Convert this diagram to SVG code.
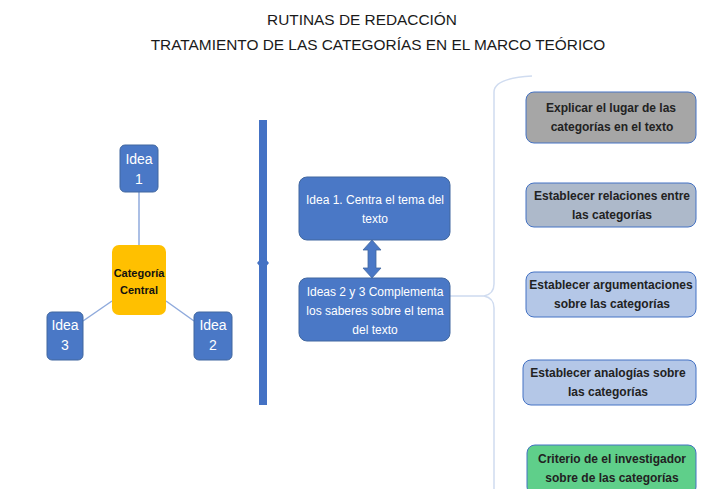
<svg xmlns="http://www.w3.org/2000/svg" width="705" height="489" viewBox="0 0 705 489" xml:space="preserve">
<style>
text{font-family:"Liberation Sans","DejaVu Sans",sans-serif}
.title{font-size:15.4px;fill:#1a1a1a;text-anchor:middle}
.blue{fill:#4a78c6;stroke:#41679f;stroke-width:1}
.wt{fill:#fff;font-size:14px;text-anchor:middle}
.wt2{fill:#fff;font-size:12px;text-anchor:middle}
.bt{fill:#222;font-size:12px;font-weight:bold;text-anchor:middle}
.thin{stroke:#8faadc;stroke-width:1.5;fill:none}
.rb{stroke:#4472c4;stroke-width:1}
</style>
<rect width="705" height="489" fill="#fff"/>
<g id="title">
<text class="title" x="362" y="25">RUTINAS DE REDACCIÓN</text>
<text class="title" x="378" y="50">TRATAMIENTO DE LAS CATEGORÍAS EN EL MARCO TEÓRICO</text>
</g>
<g id="connectors">
<line class="thin" x1="139" y1="192" x2="139" y2="245"/>
<line class="thin" x1="112" y1="301" x2="83" y2="321"/>
<line class="thin" x1="166" y1="301" x2="194" y2="321"/>
<rect x="259" y="120" width="8" height="285" fill="#4472c4"/>
<polygon points="263,256 269,263 263,270 257,263" fill="#4472c4"/>
<polygon points="372,240 381,250 376,250 376,268 381,268 372,278 363,268 368,268 368,250 363,250" fill="#4a78c6" stroke="#41679f" stroke-width="0.8"/>
<line x1="450" y1="296" x2="484" y2="296" stroke="#b4c7e7" stroke-width="1"/>
<path d="M532,76 Q494,78 494,92 L494,284 Q494,294 484,296 Q494,298 494,308 L494,489" fill="none" stroke="#d0dcf0" stroke-width="1.5"/>
</g>
<g id="idea1">
<rect class="blue" x="120" y="145" width="38" height="47" rx="5"/>
<text class="wt" x="139" y="164">Idea</text>
<text class="wt" x="139" y="184">1</text>
</g>
<g id="central">
<rect x="112" y="245" width="54" height="70" rx="7" fill="#ffc000"/>
<text x="139" y="277" font-size="11" font-weight="bold" fill="#111" text-anchor="middle">Categoría</text>
<text x="139" y="294" font-size="11" font-weight="bold" fill="#111" text-anchor="middle">Central</text>
</g>
<g id="idea3">
<rect class="blue" x="47" y="312" width="36" height="48" rx="5"/>
<text class="wt" x="65" y="330">Idea</text>
<text class="wt" x="65" y="350">3</text>
</g>
<g id="idea2">
<rect class="blue" x="194" y="312" width="38" height="48" rx="5"/>
<text class="wt" x="213" y="330">Idea</text>
<text class="wt" x="213" y="350">2</text>
</g>
<g id="boxA">
<rect class="blue" x="299" y="177" width="151" height="63" rx="8"/>
<text class="wt2" x="375" y="204">Idea 1. Centra el tema del</text>
<text class="wt2" x="375" y="223">texto</text>
</g>
<g id="boxB">
<rect class="blue" x="299" y="278" width="151" height="63" rx="8"/>
<text class="wt2" x="375" y="296">Ideas 2 y 3 Complementa</text>
<text class="wt2" x="375" y="315">los saberes sobre el tema</text>
<text class="wt2" x="375" y="334">del texto</text>
</g>
<g id="r1">
<rect class="rb" x="526" y="92" width="170" height="51" rx="8" fill="#a6a6a6"/>
<text class="bt" x="611" y="112">Explicar el lugar de  las</text>
<text class="bt" x="612" y="131">categorías en el texto</text>
</g>
<g id="r2">
<rect class="rb" x="526" y="183" width="170" height="44" rx="8" fill="#adb9ca"/>
<text class="bt" x="612" y="200">Establecer relaciones entre</text>
<text class="bt" x="612" y="219">las categorías</text>
</g>
<g id="r3">
<rect class="rb" x="526" y="272" width="170" height="45" rx="8" fill="#b4c7e7"/>
<text class="bt" x="611" y="289">Establecer  argumentaciones</text>
<text class="bt" x="612" y="308">sobre las  categorías</text>
</g>
<g id="r4">
<rect class="rb" x="523" y="360" width="173" height="45" rx="8" fill="#b4c7e7"/>
<text class="bt" x="608" y="377">Establecer  analogías sobre</text>
<text class="bt" x="608" y="396">las categorías</text>
</g>
<g id="r5">
<rect class="rb" x="527" y="445" width="169" height="50" rx="8" fill="#5fcf8a"/>
<text class="bt" x="612" y="463">Criterio de el investigador</text>
<text class="bt" x="612" y="482">sobre de las  categorías</text>
</g>
</svg>
